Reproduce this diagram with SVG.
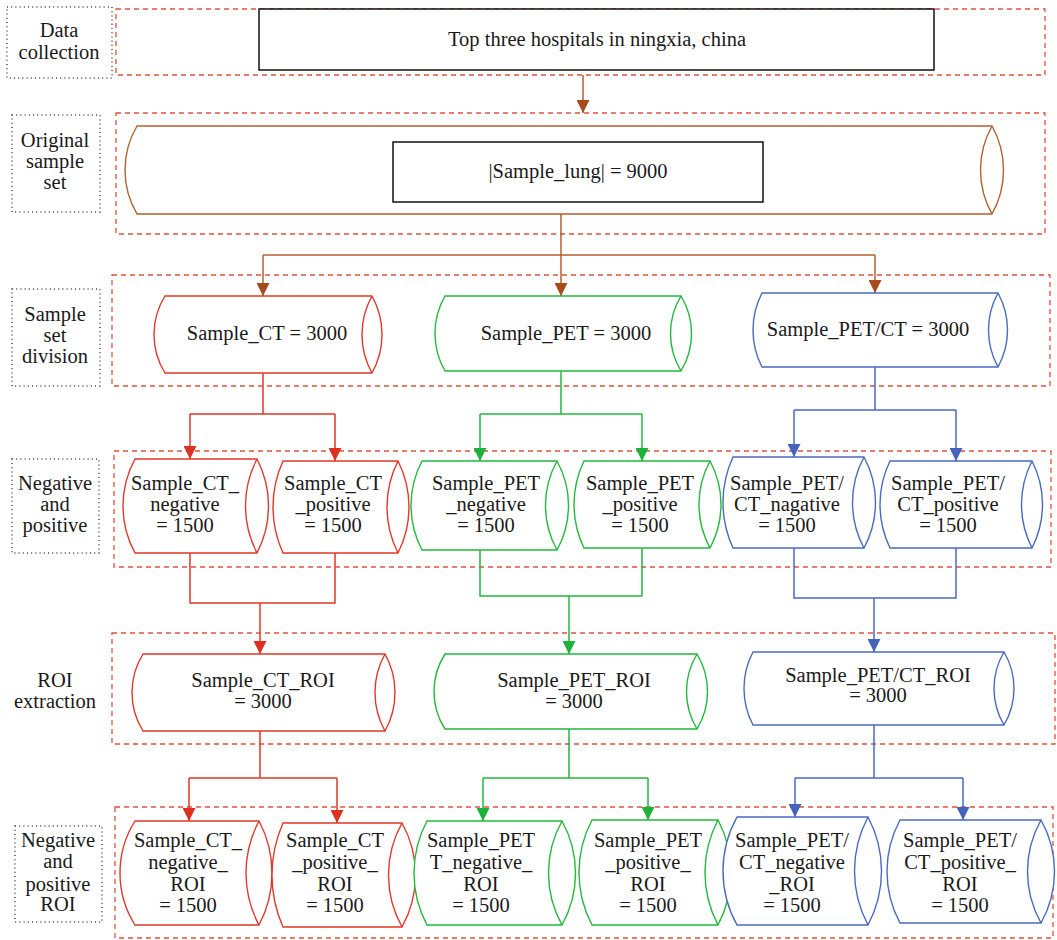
<svg xmlns="http://www.w3.org/2000/svg" width="1057" height="940" viewBox="0 0 1057 940">
<style>
.t{font-family:"Liberation Serif","Times New Roman",serif;font-size:20.5px;fill:#1a1a1a;text-anchor:middle}
.dash{fill:none;stroke:#e0503c;stroke-width:1.3;stroke-dasharray:5 4}
.dot{fill:none;stroke:#444;stroke-width:1.5;stroke-dasharray:1 3.2}
.box{fill:#fff;stroke:#111;stroke-width:1.5}
.cb{fill:#fff;stroke-width:1.4}
.cl{fill:none;stroke-width:1.4}
.brown{stroke:#b0622f}
.red{stroke:#e2372a}
.green{stroke:#22b83c}
.blue{stroke:#4a6abf}
.ln{fill:none;stroke-width:1.5}
</style>
<defs>
<marker id="ab" viewBox="0 0 12 12" refX="12" refY="6" markerWidth="13" markerHeight="13" markerUnits="userSpaceOnUse" orient="auto"><path d="M0,0L12,6L0,12z" fill="#a64b1c"/></marker>
<marker id="ar" viewBox="0 0 12 12" refX="12" refY="6" markerWidth="13" markerHeight="13" markerUnits="userSpaceOnUse" orient="auto"><path d="M0,0L12,6L0,12z" fill="#dc3020"/></marker>
<marker id="ag" viewBox="0 0 12 12" refX="12" refY="6" markerWidth="13" markerHeight="13" markerUnits="userSpaceOnUse" orient="auto"><path d="M0,0L12,6L0,12z" fill="#1db33a"/></marker>
<marker id="au" viewBox="0 0 12 12" refX="12" refY="6" markerWidth="13" markerHeight="13" markerUnits="userSpaceOnUse" orient="auto"><path d="M0,0L12,6L0,12z" fill="#4563bb"/></marker>
</defs>

<g id="stages">
<rect class="dash" x="116" y="9" width="929" height="66"/>
<rect class="dash" x="116" y="113" width="929" height="121"/>
<rect class="dash" x="112" y="275" width="938" height="111"/>
<rect class="dash" x="114" y="451" width="937" height="116"/>
<rect class="dash" x="112" y="633" width="943" height="111"/>
<rect class="dash" x="115" y="807" width="938" height="131"/>
</g>

<g id="labels">
<g id="label-data"><rect class="dot" x="7" y="7" width="105" height="71"/><text class="t" x="59" y="37">Data</text><text class="t" x="59" y="59">collection</text></g>
<g id="label-original"><rect class="dot" x="12" y="115" width="88" height="97"/><text class="t" x="55" y="147">Original</text><text class="t" x="55" y="168">sample</text><text class="t" x="55" y="189">set</text></g>
<g id="label-division"><rect class="dot" x="12" y="289" width="88" height="97"/><text class="t" x="55" y="321">Sample</text><text class="t" x="55" y="342">set</text><text class="t" x="55" y="363">division</text></g>
<g id="label-negpos"><rect class="dot" x="12" y="459" width="87" height="94"/><text class="t" x="55" y="490">Negative</text><text class="t" x="55" y="511">and</text><text class="t" x="55" y="532">positive</text></g>
<g id="label-roi"><text class="t" x="55" y="687">ROI</text><text class="t" x="55" y="708">extraction</text></g>
<g id="label-negposroi"><rect class="dot" x="15" y="826" width="87" height="96"/><text class="t" x="58" y="847">Negative</text><text class="t" x="58" y="868">and</text><text class="t" x="58" y="891">positive</text><text class="t" x="58" y="911">ROI</text></g>
</g>

<g id="connectors">
<path class="ln brown" d="M583,75V113" marker-end="url(#ab)"/>
<path class="ln brown" d="M561,202V255M263,255H875"/>
<path class="ln brown" d="M263,255V296" marker-end="url(#ab)"/>
<path class="ln brown" d="M561,255V296" marker-end="url(#ab)"/>
<path class="ln brown" d="M875,255V293" marker-end="url(#ab)"/>

<path class="ln red" d="M263,373V414M190,414H335"/>
<path class="ln red" d="M190,414V459" marker-end="url(#ar)"/>
<path class="ln red" d="M335,414V461" marker-end="url(#ar)"/>
<path class="ln red" d="M190,553V603H335V553"/>
<path class="ln red" d="M260,603V654" marker-end="url(#ar)"/>
<path class="ln red" d="M260,731V778M189,778H337"/>
<path class="ln red" d="M189,778V821" marker-end="url(#ar)"/>
<path class="ln red" d="M337,778V823" marker-end="url(#ar)"/>

<path class="ln green" d="M561,371V414M480,414H642"/>
<path class="ln green" d="M480,414V461" marker-end="url(#ag)"/>
<path class="ln green" d="M642,414V461" marker-end="url(#ag)"/>
<path class="ln green" d="M480,550V596H642V548"/>
<path class="ln green" d="M569,596V654" marker-end="url(#ag)"/>
<path class="ln green" d="M569,729V778M483,778H648"/>
<path class="ln green" d="M483,778V821" marker-end="url(#ag)"/>
<path class="ln green" d="M648,778V820" marker-end="url(#ag)"/>

<path class="ln blue" d="M875,367V410M794,410H956"/>
<path class="ln blue" d="M794,410V457" marker-end="url(#au)"/>
<path class="ln blue" d="M956,410V461" marker-end="url(#au)"/>
<path class="ln blue" d="M794,548V598H956V548"/>
<path class="ln blue" d="M874,598V652" marker-end="url(#au)"/>
<path class="ln blue" d="M874,725V778M795,778H963"/>
<path class="ln blue" d="M795,778V817" marker-end="url(#au)"/>
<path class="ln blue" d="M963,778V820" marker-end="url(#au)"/>
</g>

<g id="n-hospitals"><rect class="box" x="259" y="9" width="675" height="61"/><text class="t" x="597" y="46">Top three hospitals in ningxia, china</text></g>

<g id="n-sample-lung">
<path class="cb brown" d="M992,126L137,126A86.7,86.7 0 0 0 137,214L992,214A89.9,89.9 0 0 0 992,126Z"/>
<path class="cl brown" d="M992,126A89.9,89.9 0 0 0 992,214"/>
<rect class="box" x="393" y="142" width="370" height="60"/>
<text class="t" x="578" y="178">|Sample_lung| = 9000</text>
</g>

<g id="n-ct">
<path class="cb red" d="M372,296L165,296A72.9,72.9 0 0 0 165,373L372,373A79.1,79.1 0 0 0 372,296Z"/>
<path class="cl red" d="M372,296A79.1,79.1 0 0 0 372,373"/>
<text class="t" x="267" y="340">Sample_CT = 3000</text>
</g>
<g id="n-pet">
<path class="cb green" d="M681,296L445,296A75.3,75.3 0 0 0 445,371L681,371A72.2,72.2 0 0 0 681,296Z"/>
<path class="cl green" d="M681,296A72.2,72.2 0 0 0 681,371"/>
<text class="t" x="566" y="340">Sample_PET = 3000</text>
</g>
<g id="n-petct">
<path class="cb blue" d="M998,293L762,293A80.6,80.6 0 0 0 762,367L998,367A76.8,76.8 0 0 0 998,293Z"/>
<path class="cl blue" d="M998,293A76.8,76.8 0 0 0 998,367"/>
<text class="t" x="868" y="336">Sample_PET/CT = 3000</text>
</g>

<g id="n-ct-neg">
<path class="cb red" d="M257,459L135,459A98,98 0 0 0 135,553L257,553A101.8,101.8 0 0 0 257,459Z"/>
<path class="cl red" d="M257,459A101.8,101.8 0 0 0 257,553"/>
<text class="t" x="185" y="490">Sample_CT_</text><text class="t" x="185" y="511">negative</text><text class="t" x="185" y="532">= 1500</text>
</g>
<g id="n-ct-pos">
<path class="cb red" d="M398,461L283,461A110.8,110.8 0 0 0 283,553L398,553A101.7,101.7 0 0 0 398,461Z"/>
<path class="cl red" d="M398,461A101.7,101.7 0 0 0 398,553"/>
<text class="t" x="333" y="490">Sample_CT</text><text class="t" x="333" y="511">_positive</text><text class="t" x="333" y="532">= 1500</text>
</g>
<g id="n-pet-neg">
<path class="cb green" d="M557,461L422,461A95.5,95.5 0 0 0 422,550L557,550A91.8,91.8 0 0 0 557,461Z"/>
<path class="cl green" d="M557,461A91.8,91.8 0 0 0 557,550"/>
<text class="t" x="486" y="490">Sample_PET</text><text class="t" x="486" y="511">_negative</text><text class="t" x="486" y="532">= 1500</text>
</g>
<g id="n-pet-pos">
<path class="cb green" d="M710,461L584,461A99.6,99.6 0 0 0 584,548L710,548A91.5,91.5 0 0 0 710,461Z"/>
<path class="cl green" d="M710,461A91.5,91.5 0 0 0 710,548"/>
<text class="t" x="640" y="490">Sample_PET</text><text class="t" x="640" y="511">_positive</text><text class="t" x="640" y="532">= 1500</text>
</g>
<g id="n-petct-neg">
<path class="cb blue" d="M864,457L733,457A108.5,108.5 0 0 0 733,548L864,548A95.8,95.8 0 0 0 864,457Z"/>
<path class="cl blue" d="M864,457A95.8,95.8 0 0 0 864,548"/>
<text class="t" x="787" y="490">Sample_PET/</text><text class="t" x="787" y="511">CT_nagative</text><text class="t" x="787" y="532">= 1500</text>
</g>
<g id="n-petct-pos">
<path class="cb blue" d="M1032,461L890,461A99.6,99.6 0 0 0 890,548L1032,548A95.4,95.4 0 0 0 1032,461Z"/>
<path class="cl blue" d="M1032,461A95.4,95.4 0 0 0 1032,548"/>
<text class="t" x="948" y="490">Sample_PET/</text><text class="t" x="948" y="511">CT_positive</text><text class="t" x="948" y="532">= 1500</text>
</g>

<g id="n-ct-roi">
<path class="cb red" d="M385,654L143,654A72.9,72.9 0 0 0 143,731L385,731A79.1,79.1 0 0 0 385,654Z"/>
<path class="cl red" d="M385,654A79.1,79.1 0 0 0 385,731"/>
<text class="t" x="263" y="687">Sample_CT_ROI</text><text class="t" x="263" y="708">= 3000</text>
</g>
<g id="n-pet-roi">
<path class="cb green" d="M697,654L445,654A69.4,69.4 0 0 0 445,729L697,729A72.2,72.2 0 0 0 697,654Z"/>
<path class="cl green" d="M697,654A72.2,72.2 0 0 0 697,729"/>
<text class="t" x="574" y="687">Sample_PET_ROI</text><text class="t" x="574" y="708">= 3000</text>
</g>
<g id="n-petct-roi">
<path class="cb blue" d="M1004,652L753,652A78.5,78.5 0 0 0 753,725L1004,725A71.6,71.6 0 0 0 1004,652Z"/>
<path class="cl blue" d="M1004,652A71.6,71.6 0 0 0 1004,725"/>
<text class="t" x="878" y="682">Sample_PET/CT_ROI</text><text class="t" x="878" y="702">= 3000</text>
</g>

<g id="n-ct-neg-roi">
<path class="cb red" d="M259,821L135,821A97.6,97.6 0 0 0 135,925L259,925A110.5,110.5 0 0 0 259,821Z"/>
<path class="cl red" d="M259,821A110.5,110.5 0 0 0 259,925"/>
<text class="t" x="188" y="847">Sample_CT_</text><text class="t" x="188" y="869">negative_</text><text class="t" x="188" y="891">ROI</text><text class="t" x="188" y="912">= 1500</text>
</g>
<g id="n-ct-pos-roi">
<path class="cb red" d="M402,823L283,823A128.4,128.4 0 0 0 283,927L402,927A106.9,106.9 0 0 0 402,823Z"/>
<path class="cl red" d="M402,823A106.9,106.9 0 0 0 402,927"/>
<text class="t" x="335" y="847">Sample_CT</text><text class="t" x="335" y="869">_positive_</text><text class="t" x="335" y="891">ROI</text><text class="t" x="335" y="912">= 1500</text>
</g>
<g id="n-pet-neg-roi">
<path class="cb green" d="M562,821L427,821A110.5,110.5 0 0 0 427,925L562,925A106.9,106.9 0 0 0 562,821Z"/>
<path class="cl green" d="M562,821A106.9,106.9 0 0 0 562,925"/>
<text class="t" x="481" y="847">Sample_PET</text><text class="t" x="481" y="869">T_negative_</text><text class="t" x="481" y="891">ROI</text><text class="t" x="481" y="912">= 1500</text>
</g>
<g id="n-pet-pos-roi">
<path class="cb green" d="M718,820L592,820A112.5,112.5 0 0 0 592,925L718,925A112.5,112.5 0 0 0 718,820Z"/>
<path class="cl green" d="M718,820A112.5,112.5 0 0 0 718,925"/>
<text class="t" x="648" y="847">Sample_PET</text><text class="t" x="648" y="869">_positive_</text><text class="t" x="648" y="891">ROI</text><text class="t" x="648" y="912">= 1500</text>
</g>
<g id="n-petct-neg-roi">
<path class="cb blue" d="M868,817L737,817A111.1,111.1 0 0 0 737,925L868,925A114.8,114.8 0 0 0 868,817Z"/>
<path class="cl blue" d="M868,817A114.8,114.8 0 0 0 868,925"/>
<text class="t" x="792" y="847">Sample_PET/</text><text class="t" x="792" y="869">CT_negative</text><text class="t" x="792" y="891">_ROI</text><text class="t" x="792" y="912">= 1500</text>
</g>
<g id="n-petct-pos-roi">
<path class="cb blue" d="M1041,820L900,820A108.5,108.5 0 0 0 900,923L1041,923A105,105 0 0 0 1041,820Z"/>
<path class="cl blue" d="M1041,820A105,105 0 0 0 1041,923"/>
<text class="t" x="960" y="847">Sample_PET/</text><text class="t" x="960" y="869">CT_positive_</text><text class="t" x="960" y="891">ROI</text><text class="t" x="960" y="912">= 1500</text>
</g>
</svg>
